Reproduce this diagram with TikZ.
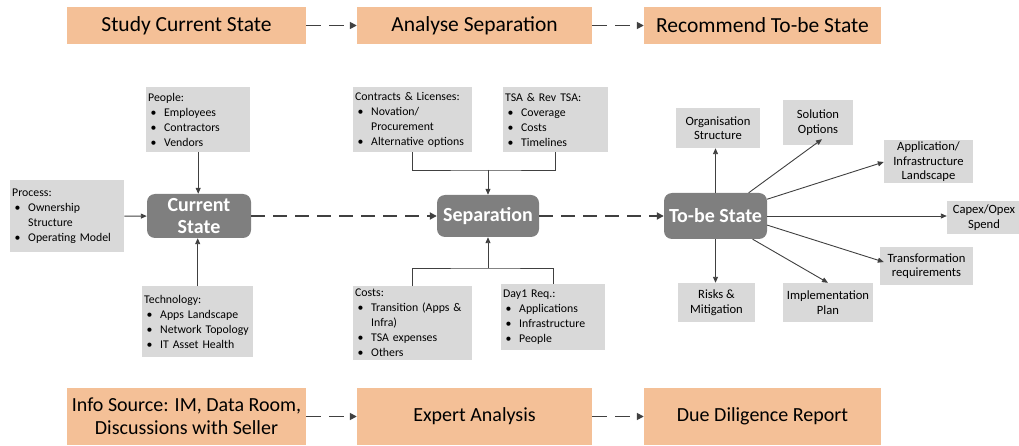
\documentclass[tikz,border=0pt]{standalone}
\usepackage{fontspec}
\setmainfont{Carlito}
\usepackage{tikz}
\usetikzlibrary{arrows.meta,calc}

\definecolor{peach}{HTML}{F4C097}
\definecolor{lightgrey}{HTML}{D9D9D9}
\definecolor{midgrey}{HTML}{7F7F7F}
\definecolor{linegrey}{HTML}{404040}

\hyphenpenalty=10000
% one bullet line inside a list box
\newcommand{\bul}[1]{\par\noindent\hangindent=16pt\hangafter=1\makebox[16pt][l]{\hspace{2.5pt}\textbullet}#1}

\begin{document}
\begin{tikzpicture}[x=1pt,y=-1pt]
    % `stage' is used for the orange boxes on top and bottom.
    % `state' is used for the three grey rounded nodes.
    % `listbox' is used for the input boxes with bullets, `outbox' for the results.
    \tikzstyle{stage} = [fill=peach,minimum height=37pt,align=center,inner sep=0pt,font=\fontsize{21.5}{24}\selectfont]
    \tikzstyle{state} = [fill=midgrey,rounded corners=8pt,text=white,align=center,inner sep=0pt,font=\bfseries\fontsize{20}{22.5}\selectfont]
    \tikzstyle{listbox} = [fill=lightgrey,anchor=north west,align=left,inner xsep=2pt,inner ysep=1pt,font=\fontsize{11.8}{15}\selectfont]
    \tikzstyle{outbox} = [fill=lightgrey,align=center,inner sep=0pt,font=\fontsize{12.6}{14.5}\selectfont]
    \tikzstyle{flow} = [draw=linegrey,line width=2pt,dash pattern=on 14pt off 8pt,-{Triangle[length=7pt,width=7pt]}]
    \tikzstyle{feed} = [draw=linegrey,line width=0.9pt,-{Triangle[length=6pt,width=5pt]}]
    \tikzstyle{tie} = [draw=linegrey,line width=0.9pt]
    %
    \useasboundingbox (0,0) rectangle (1019,446);
    %
    % Top and bottom rows.
    \node[stage,minimum width=239pt] (study) at (186.5,25.5) {Study Current State};
    \node[stage,minimum width=235pt] (analyse) at (474.5,25.5) {Analyse Separation};
    \node[stage,minimum width=237pt] (recommend) at (762.5,25.5) {Recommend To-be State};
    \node[stage,minimum width=239pt,minimum height=57pt,font=\fontsize{20}{23}\selectfont] (info) at (186.5,416.5) {Info Source: IM, Data Room,\\Discussions with Seller};
    \node[stage,minimum width=235pt,minimum height=57pt,font=\fontsize{20}{23}\selectfont] (expert) at (474.5,416.5) {Expert Analysis};
    \node[stage,minimum width=237pt,minimum height=57pt,font=\fontsize{20}{23}\selectfont] (report) at (762.5,416.5) {Due Diligence Report};
    %
    % Main states.
    \node[state,minimum width=104pt,minimum height=44pt] (current) at (199,216) {Current\\State};
    \node[state,minimum width=102pt,minimum height=42pt] (separation) at (488,216) {Separation};
    \node[state,minimum width=103pt,minimum height=46pt] (tobe) at (715.5,216) {To-be State};
    %
    % Inputs of the current state.
    \node[listbox,text width=100pt,minimum height=65pt] (people) at (146,87)
      {People:\bul{Employees}\bul{Contractors}\bul{Vendors}};
    \node[listbox,text width=110pt,minimum height=72pt] (process) at (10,180)
      {Process:\bul{Ownership\newline Structure}\bul{Operating Model}};
    \node[listbox,text width=107pt,minimum height=71pt] (technology) at (142,286)
      {Technology:\bul{Apps Landscape}\bul{Network Topology}\bul{IT Asset Health}};
    %
    % Inputs of the separation.
    \node[listbox,text width=115pt,minimum height=65pt] (contracts) at (353,87)
      {Contracts \& Licenses:\bul{Novation/\newline Procurement}\bul{Alternative options}};
    \node[listbox,text width=101pt,minimum height=65pt] (tsa) at (503,87)
      {TSA \& Rev TSA:\bul{Coverage}\bul{Costs}\bul{Timelines}};
    \node[listbox,text width=115pt,minimum height=74pt] (costs) at (353,286)
      {Costs:\bul{Transition (Apps \&\newline Infra)}\bul{TSA expenses}\bul{Others}};
    \node[listbox,text width=100pt,minimum height=66pt] (dayone) at (501,284)
      {Day1 Req.:\bul{Applications}\bul{Infrastructure}\bul{People}};
    %
    % Results of the to-be state.
    \node[outbox,minimum width=84pt,minimum height=40pt] (org) at (718,128) {Organisation\\Structure};
    \node[outbox,minimum width=70pt,minimum height=45pt] (solution) at (818,122.5) {Solution\\Options};
    \node[outbox,minimum width=89pt,minimum height=43pt] (landscape) at (928.5,162) {Application/\\Infrastructure\\Landscape};
    \node[outbox,minimum width=74pt,minimum height=33pt] (capex) at (984,217.5) {Capex/Opex\\Spend};
    \node[outbox,minimum width=93pt,minimum height=38pt] (transform) at (926.5,266) {Transformation\\requirements};
    \node[outbox,minimum width=90pt,minimum height=39pt] (plan) at (828,302.5) {Implementation\\Plan};
    \node[outbox,minimum width=77pt,minimum height=39pt] (risks) at (716.5,302.5) {Risks \&\\Mitigation};
    %
    % Draw lines.
    \draw[flow,line width=1.6pt,dash pattern=on 15pt off 8pt] (study) -- (analyse);
    \draw[flow,line width=1.6pt,dash pattern=on 15pt off 8pt] (analyse) -- (recommend);
    \draw[flow,line width=1.6pt,dash pattern=on 15pt off 8pt] (info) -- (expert);
    \draw[flow,line width=1.6pt,dash pattern=on 15pt off 8pt] (expert) -- (report);
    \draw[flow] (current) -- (separation);
    \draw[flow] (separation) -- (tobe);
    %
    \draw[feed] (people) -- (people |- current.north);
    \draw[feed] (process) -- (current);
    \draw[feed] (technology) -- (technology |- current.south);
    %
    \coordinate (sepin) at (488,170);
    \coordinate (sepout) at (488,268);
    \draw[tie] (contracts.south) |- (sepin) -| (tsa.south);
    \draw[feed] (sepin) -- (separation.north);
    \draw[tie] (costs.north) |- (sepout) -| (dayone.north);
    \draw[feed] (sepout) -- (separation.south);
    %
    \draw[feed] (tobe.north) -- (tobe.north |- org.south);
    \draw[feed] (tobe.south) -- (tobe.south |- risks.north);
    \draw[feed] (tobe.35) -- ($(solution.south)+(4,-6)$);
    \draw[feed] (tobe.18) -- (landscape.west);
    \draw[feed] (tobe.east) -- (capex.west |- tobe.east);
    \draw[feed] (tobe.-10) -- ($(transform.west)+(4,-4)$);
    \draw[feed] (tobe.-32) -- (plan.north);
\end{tikzpicture}
\end{document}
